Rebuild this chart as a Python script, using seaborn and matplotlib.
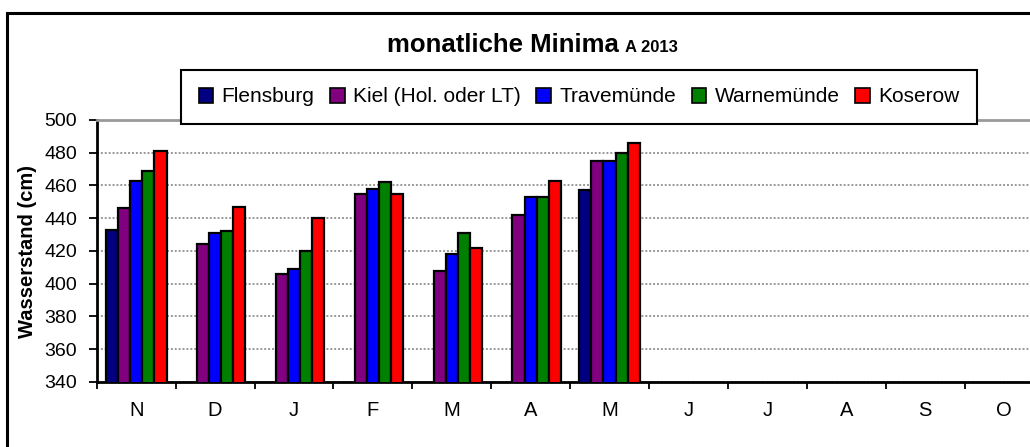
import numpy as np
import pandas as pd
import matplotlib
matplotlib.use("Agg")
import matplotlib.pyplot as plt
from matplotlib.patches import Rectangle
import seaborn as sns

# ─────────────────────────────────────────
#  Data  (monthly minima, water level in cm)
# ─────────────────────────────────────────
month_keys   = ["Nov", "Dez", "Jan", "Feb", "Mar", "Apr", "Mai", "Jun", "Jul", "Aug", "Sep", "Okt"]
month_labels = ["N", "D", "J", "F", "M", "A", "M", "J", "J", "A", "S", "O"]

stations = ["Flensburg", "Kiel (Hol. oder LT)", "Travemünde", "Warnemünde", "Koserow"]
colors   = ["#000080", "#800080", "#0000FF", "#008000", "#FF0000"]

nan = np.nan
flensburg   = [433, nan, nan, nan, nan, nan, 457, nan, nan, nan, nan, nan]
kiel        = [446, 424, 406, 455, 408, 442, 475, nan, nan, nan, nan, nan]
travemuende = [463, 431, 409, 458, 418, 453, 475, nan, nan, nan, nan, nan]
warnemuende = [469, 432, 420, 462, 431, 453, 480, nan, nan, nan, nan, nan]
koserow     = [481, 447, 440, 455, 422, 463, 486, nan, nan, nan, nan, nan]

series = [flensburg, kiel, travemuende, warnemuende, koserow]

rows = []
for name, vals in zip(stations, series):
    for m, v in zip(month_keys, vals):
        rows.append({"Monat": m, "Station": name, "Wert": v})
df = pd.DataFrame(rows)

# ─────────────────────────────────────────
#  Figure
# ─────────────────────────────────────────
sns.set_theme(style="white")
plt.rcParams["font.family"] = ["Liberation Sans", "DejaVu Sans"]
plt.rcParams["text.color"] = "black"

fig = plt.figure(figsize=(10.30, 4.47), dpi=100)
ax = fig.add_axes([96.7 / 1030, 1 - 382 / 447, 946.8 / 1030, 262 / 447])

sns.barplot(data=df, x="Monat", y="Wert", hue="Station",
            order=month_keys, hue_order=stations,
            palette=dict(zip(stations, colors)), saturation=1,
            width=0.77, gap=0, edgecolor="black", linewidth=1.6,
            legend=False, ax=ax, zorder=3)

ax.set_ylim(340, 500)
ax.set_yticks(range(340, 501, 20))
ax.set_xlim(-0.5, 11.5)
ax.set_xticks(range(12))
ax.set_xticklabels(month_labels)
ax.set_xticks(np.arange(-0.5, 12, 1), minor=True)
ax.set_xlabel("")
ax.set_ylabel("")

ax.tick_params(axis="x", which="major", length=0, pad=14, labelsize=14.5, colors="black")
ax.tick_params(axis="x", which="minor", direction="out", length=5, width=1.3, color="black", bottom=True)
ax.tick_params(axis="y", direction="out", length=6, width=1.3, pad=8, labelsize=14,
               colors="black", left=True)

ax.yaxis.grid(True, linestyle=(0, (1, 1)), color="#999999", linewidth=1.4, zorder=0)
ax.set_axisbelow(True)

for side in ["left", "bottom"]:
    ax.spines[side].set_color("black")
    ax.spines[side].set_linewidth(2)
ax.spines["top"].set_color("#999999")
ax.spines["top"].set_linewidth(2)
ax.spines["right"].set_visible(False)

# y label
fig.text(28 / 1030, 1 - 251 / 447, "Wasserstand (cm)", rotation=90,
         ha="center", va="center", fontsize=14.5, fontweight="bold")

# title in two sizes
fig.text(619 / 1030, 1 - 52 / 447, "monatliche Minima", ha="right", va="baseline",
         fontsize=18.5, fontweight="bold")
fig.text(625 / 1030, 1 - 52 / 447, "A 2013", ha="left", va="baseline",
         fontsize=12, fontweight="bold")

# legend
handles = [Rectangle((0, 0), 1, 1, facecolor=c, edgecolor="black", linewidth=1.2) for c in colors]
leg = fig.legend(handles, stations, loc="center", bbox_to_anchor=(579 / 1030, 1 - 97 / 447),
                 ncol=5, fontsize=15, frameon=True, fancybox=False, framealpha=1,
                 edgecolor="black", handlelength=0.7, handleheight=0.7,
                 handletextpad=0.4, columnspacing=0.75, borderpad=0.85, borderaxespad=0)
leg.get_frame().set_linewidth(1.5)

# outer chart border (left and top visible, rest cropped)
fig.patches.append(Rectangle((7 / 1030, -0.1), 1.2, 1 - 13 / 447 + 0.1,
                             transform=fig.transFigure, fill=False,
                             edgecolor="black", linewidth=2.2, zorder=0))

fig.savefig("out.png", dpi=100)
